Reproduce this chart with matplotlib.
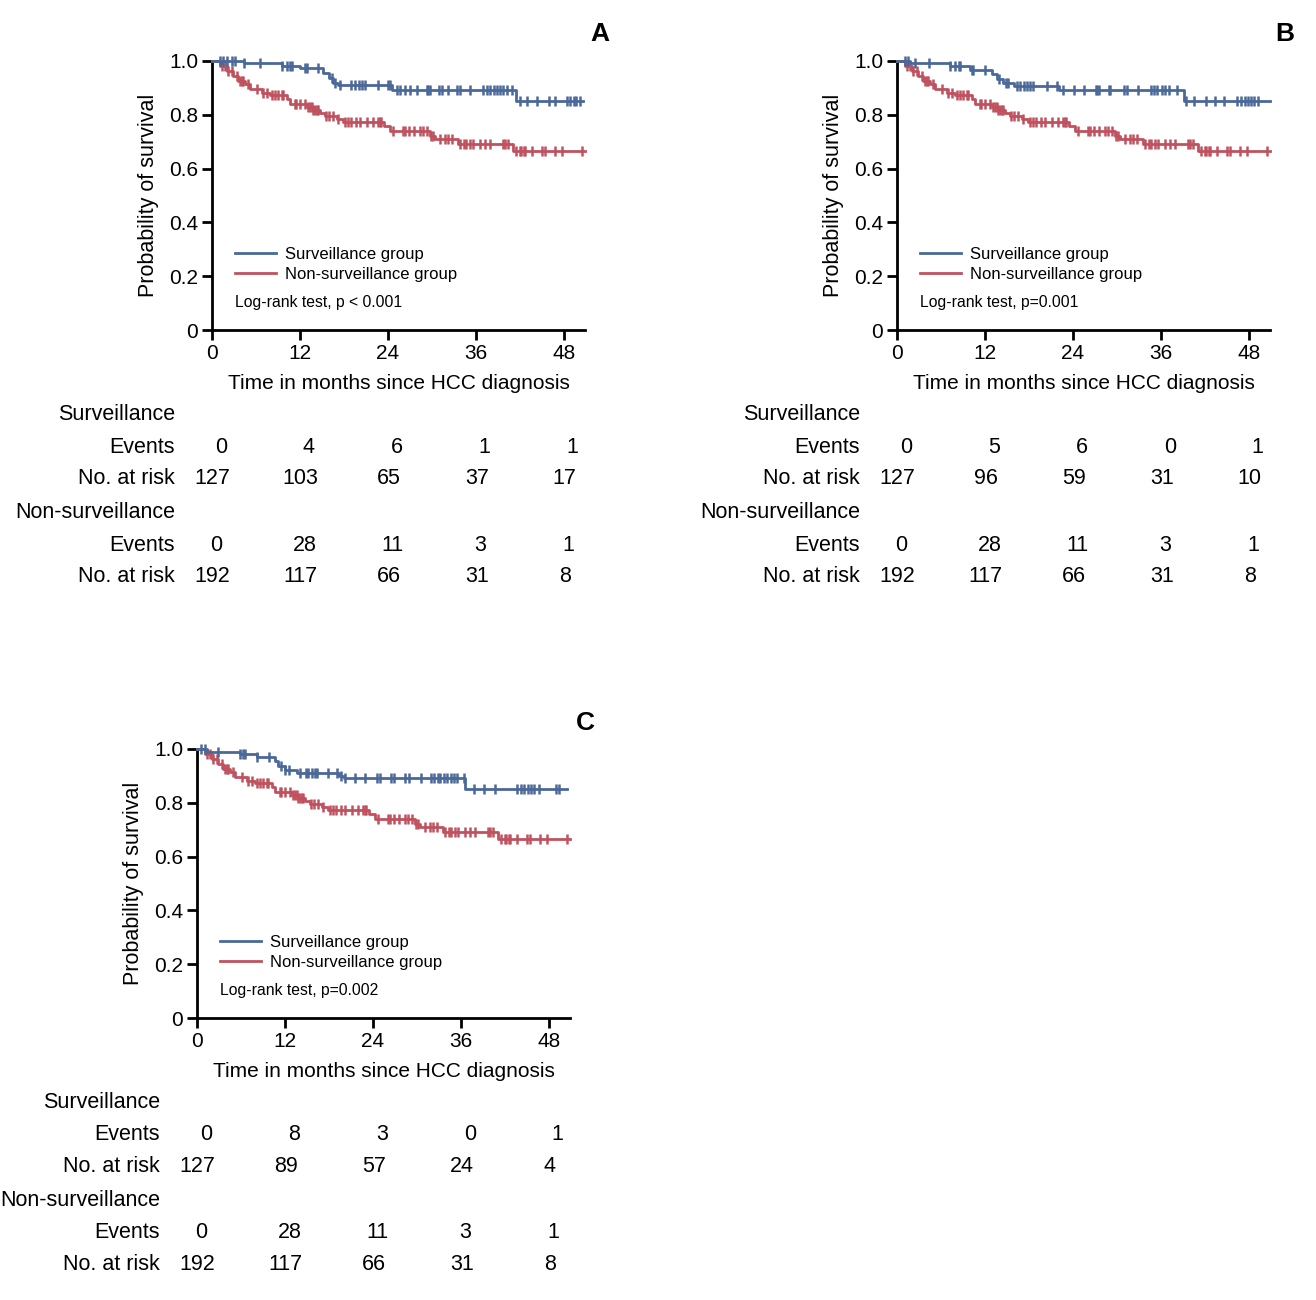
import matplotlib
matplotlib.use("Agg")
import matplotlib.pyplot as plt
import numpy as np
from matplotlib.lines import Line2D
from matplotlib.transforms import blended_transform_factory

plt.rcParams['font.family'] = ['Liberation Sans Narrow', 'Liberation Sans', 'DejaVu Sans']

BLUE = '#4a6899'
RED = '#c0525f'

# ---- data ----
time_ticks = [0, 12, 24, 36, 48]

# Non-surveillance group (same in all panels)
red_t = [0, 1.1, 2.0, 2.9, 3.6, 4.5, 5.2, 6.8, 7.9, 10.2, 10.6, 12.9, 13.8, 14.7, 15.4, 17.0, 17.9, 23.4, 24.3, 29.7, 30.4, 33.6, 41.1]
red_s = [1.0, 0.981, 0.963, 0.944, 0.926, 0.913, 0.895, 0.882, 0.872, 0.858, 0.839, 0.829, 0.817, 0.808, 0.796, 0.783, 0.773, 0.758, 0.740, 0.721, 0.709, 0.693, 0.665]
red_end = 50.9
red_cens = [1.32, 1.77, 2.23, 2.68, 3.36, 3.82, 4.05, 4.27, 4.95, 6.09, 7.0, 7.45, 8.14, 8.59, 9.05, 9.5, 9.73,
            11.3, 11.5, 12.0, 12.7, 13.1, 13.4, 13.6, 13.8, 14.0, 14.3, 14.5, 15.6, 15.9, 16.5, 17.2, 18.1, 18.6,
            19.0, 19.7, 20.2, 21.1, 22.0, 22.7, 22.9, 23.1, 24.7, 26.1, 26.3, 26.8, 27.5, 28.4, 28.8, 29.3, 29.9,
            30.2, 31.1, 31.8, 32.2, 32.7, 33.8, 34.3, 34.7, 35.2, 35.6, 36.5, 37.2, 37.9, 39.7, 40.0, 40.4, 41.5,
            42.0, 42.2, 42.5, 42.7, 43.6, 45.0, 45.4, 46.8, 47.7, 50.4]

# Surveillance group, panel A
blueA_t = [0, 4.3, 9.5, 12.0, 15.2, 15.9, 16.5, 17.2, 24.5, 41.5]
blueA_s = [1.0, 0.991, 0.983, 0.973, 0.955, 0.935, 0.920, 0.911, 0.892, 0.853]
blueA_end = 50.6
blueA_cens = [1.09, 1.55, 2.0, 2.68, 3.1, 4.3, 6.5, 9.5, 10.2, 10.6, 10.9, 12.7, 12.9, 14.5, 16.3, 16.8, 17.5,
              19.0, 19.5, 20.0, 20.4, 20.9, 22.7, 24.0, 24.3, 25.2, 25.6, 26.3, 27.0, 27.9, 29.3, 29.5, 29.7,
              30.9, 31.3, 32.2, 33.4, 33.8, 35.2, 37.0, 37.5, 37.9, 38.4, 38.8, 39.3, 39.7, 40.2, 40.9, 42.0,
              42.9, 44.3, 45.9, 46.8, 48.4, 48.8, 49.3, 49.7, 50.2]

# Surveillance group, panel B
blueB_t = [0, 1.8, 7.2, 10.0, 12.9, 13.6, 14.5, 15.9, 22.1, 39.2]
blueB_s = [1.0, 0.994, 0.981, 0.968, 0.950, 0.932, 0.919, 0.907, 0.891, 0.853]
blueB_end = 50.8
blueB_cens = [1.1, 1.55, 2.5, 4.3, 7.2, 7.9, 8.4, 8.6, 10.2, 10.4, 12.0, 13.9, 14.8, 15.2, 16.4, 16.8, 17.3,
              17.7, 18.2, 18.6, 20.5, 21.8, 22.7, 24.1, 25.5, 27.1, 27.3, 27.5, 28.9, 29.1, 30.9, 31.4, 32.8,
              34.6, 35.0, 35.5, 36.2, 36.6, 37.1, 38.2, 39.4, 40.5, 42.1, 43.3, 44.6, 46.4, 46.9, 47.4, 47.8,
              48.3, 48.7, 49.2]

# Surveillance group, panel C
blueC_t = [0, 1.3, 5.9, 8.2, 10.7, 11.1, 12.0, 13.6, 19.3, 20.0, 36.6]
blueC_s = [1.0, 0.988, 0.981, 0.971, 0.955, 0.937, 0.922, 0.912, 0.898, 0.891, 0.853]
blueC_end = 50.5
blueC_cens = [0.6, 1.1, 2.9, 5.9, 6.3, 6.6, 8.2, 9.8, 11.4, 12.0, 12.5, 14.1, 14.8, 15.2, 15.7, 16.1, 16.4,
              17.9, 19.1, 19.6, 20.2, 21.6, 22.9, 24.6, 25.0, 26.4, 26.8, 28.4, 28.9, 30.5, 31.9, 32.3, 32.8,
              33.2, 33.7, 34.1, 34.6, 35.0, 35.5, 36.4, 37.8, 39.2, 40.7, 43.7, 44.2, 44.6, 45.1, 45.5, 46.0,
              46.7, 48.9, 49.4]

# Risk tables
surv_events = {'A': ['0', '4', '6', '1', '1'], 'B': ['0', '5', '6', '0', '1'], 'C': ['0', '8', '3', '0', '1']}
surv_risk = {'A': ['127', '103', '65', '37', '17'], 'B': ['127', '96', '59', '31', '10'], 'C': ['127', '89', '57', '24', '4']}
nons_events = ['0', '28', '11', '3', '1']
nons_risk = ['192', '117', '66', '31', '8']
pvals = {'A': 'Log-rank test, p < 0.001', 'B': 'Log-rank test, p=0.001', 'C': 'Log-rank test, p=0.002'}

blue_data = {'A': (blueA_t, blueA_s, blueA_end, blueA_cens),
             'B': (blueB_t, blueB_s, blueB_end, blueB_cens),
             'C': (blueC_t, blueC_s, blueC_end, blueC_cens)}

W, H = 1316, 1300
fig = plt.figure(figsize=(W / 100, H / 100), dpi=100)

# panel geometry in pixels: left (x=0), right end, y of 0, y of 1.0
panels = {'A': (212, 585, 330, 61, (600, 33)),
          'B': (897, 1270, 330, 61, (1285, 33)),
          'C': (197, 570, 1018, 749, (585, 722))}
label_x = {'A': 175, 'B': 860, 'C': 160}


def step_value(ts, ss, x):
    idx = np.searchsorted(ts, x, side='right') - 1
    return np.asarray(ss)[idx]


def draw_curve(ax, ts, ss, end, cens, color):
    xs = list(ts) + [end]
    ys = list(ss) + [ss[-1]]
    ax.step(xs, ys, where='post', color=color, lw=2.0, clip_on=False, zorder=3)
    cy = step_value(ts, ss, np.array(cens))
    ax.plot(cens, cy, ls='none', marker='|', ms=7.5, mew=1.8, color=color, clip_on=False, zorder=3)


xmax = 48 * 373 / 352.0  # axis extends a bit beyond 48 months

for key, (x0, x1, y0, y1, letter_pos) in panels.items():
    left = x0 / W
    width = (x1 - x0) / W
    bottom = 1 - y0 / H
    height = (y0 - y1) / H
    ax = fig.add_axes([left, bottom, width, height])
    ax.set_xlim(0, xmax)
    ax.set_ylim(0, 1.0)
    for s in ['top', 'right']:
        ax.spines[s].set_visible(False)
    for s in ['left', 'bottom']:
        ax.spines[s].set_linewidth(2.0)
    ax.set_xticks(time_ticks)
    ax.set_xticklabels([str(t) for t in time_ticks])
    ax.set_yticks([0, 0.2, 0.4, 0.6, 0.8, 1.0])
    ax.set_yticklabels(['0', '0.2', '0.4', '0.6', '0.8', '1.0'])
    ax.tick_params(direction='out', length=7, width=2, labelsize=15, pad=3)
    ax.set_ylabel('Probability of survival', fontsize=15.5, labelpad=7)
    ax.set_xlabel('Time in months since HCC diagnosis', fontsize=15, labelpad=8)

    bt, bs, bend, bc = blue_data[key]
    draw_curve(ax, red_t, red_s, red_end, red_cens, RED)
    draw_curve(ax, bt, bs, bend, bc, BLUE)

    handles = [Line2D([], [], color=BLUE, lw=2), Line2D([], [], color=RED, lw=2)]
    ax.legend(handles, ['Surveillance group', 'Non-surveillance group'],
              loc='lower left', bbox_to_anchor=(0.062, 0.18), frameon=False,
              fontsize=12, handlelength=2.45, handletextpad=0.55, labelspacing=0.3,
              borderpad=0, borderaxespad=0)
    ax.text(0.062, 0.104, pvals[key], transform=ax.transAxes, fontsize=11.3,
            ha='left', va='center')

    fig.text(letter_pos[0] / W, 1 - (letter_pos[1] + 1) / H, key, fontsize=19,
             fontweight='bold', ha='center', va='center')

    # risk table
    off = y0 - 330 + 2
    rows_y = [413, 445, 477, 511, 543, 575]
    row_labels = ['Surveillance', 'Events', 'No. at risk', 'Non-surveillance', 'Events', 'No. at risk']
    lx = label_x[key] / W
    for lab, ry in zip(row_labels, rows_y):
        fig.text(lx, 1 - (ry + off) / H, lab, fontsize=15.5, ha='right', va='center')
    tr = blended_transform_factory(ax.transData, fig.transFigure)
    for vals, ry, dx in [(surv_events[key], 445, 1.2), (surv_risk[key], 477, 0.1),
                         (nons_events, 543, 0.6), (nons_risk, 575, 0.1)]:
        for t, v in zip(time_ticks, vals):
            ax.text(t + dx, 1 - (ry + off) / H, v, transform=tr, fontsize=15.5,
                    ha='center', va='center', clip_on=False)

fig.savefig('out.png', dpi=100)
